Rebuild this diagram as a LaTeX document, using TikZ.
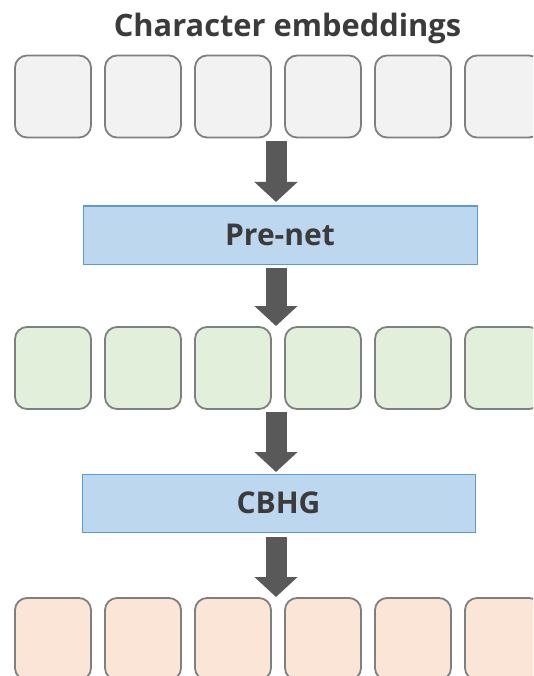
\documentclass[tikz,border=0pt]{standalone}
\usepackage{fontspec}
\setmainfont{Open Sans}
\usetikzlibrary{arrows.meta,calc}
\definecolor{txt}{HTML}{3B3B3B}
\definecolor{embfill}{HTML}{F2F2F2}
\definecolor{cellborder}{HTML}{7F7F7F}
\definecolor{grnfill}{HTML}{E2EFDA}
\definecolor{pchfill}{HTML}{FBE5D6}
\definecolor{blufill}{HTML}{BDD7EE}
\definecolor{bluborder}{HTML}{5B9BD5}
\definecolor{arrowgray}{HTML}{595959}
\tikzset{
  cell/.style={draw=cellborder, line width=1.8pt, rounded corners=12pt,
    minimum width=76pt, minimum height=82pt, inner sep=0pt, outer sep=0pt},
  labelfont/.style={font=\fontsize{30}{33}\selectfont\bfseries, text=txt},
  layerbox/.style={draw=bluborder, fill=blufill, line width=1pt,
    minimum height=58pt, inner sep=0pt, outer sep=0pt, labelfont},
  fat/.style={draw=arrowgray, line width=21pt,
    -{Triangle[width=42pt,length=20pt]}},
}
\begin{document}
\begin{tikzpicture}[x=1pt,y=-1pt]
\useasboundingbox (0,0) rectangle (533,676);
\clip (0,0) rectangle (533,676);
\node[labelfont, font=\fontsize{30.8}{33}\selectfont\bfseries] (title) at (287.5,29) {Character embeddings};
\foreach \i in {0,...,5} {
  \node[cell, fill=embfill] (e\i) at (53+90*\i, 96.5) {};
  \node[cell, fill=grnfill] (g\i) at (53+90*\i, 368) {};
  \node[cell, fill=pchfill] (p\i) at (53+90*\i, 639) {};
}
\node[layerbox, minimum width=394pt] (prenet) at (280,235) {Pre-net};
\node[layerbox, minimum width=393pt] (cbhg) at (278.5,503) {CBHG};
\coordinate (ax) at (276,0);
\draw[fat] ([yshift=-4pt]e2.south -| ax) -- ([yshift=4pt]prenet.north -| ax);
\draw[fat] ([yshift=-4pt]prenet.south -| ax) -- ([yshift=1pt]g2.north -| ax);
\draw[fat] ([yshift=-3pt]g2.south -| ax) -- ([yshift=2pt]cbhg.north -| ax);
\draw[fat] ([yshift=-5pt]cbhg.south -| ax) -- ([yshift=1pt]p2.north -| ax);
\end{tikzpicture}
\end{document}
